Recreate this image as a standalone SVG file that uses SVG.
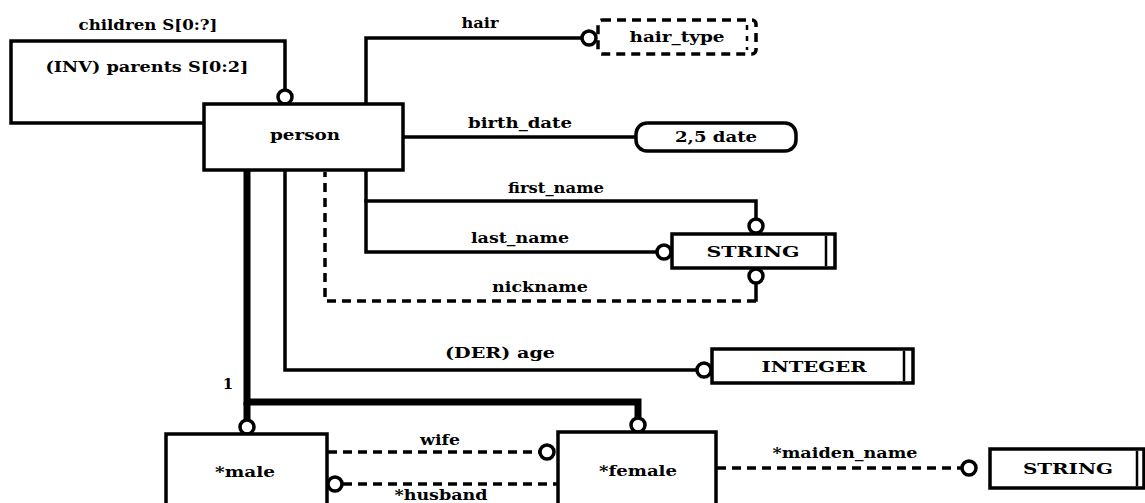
<svg xmlns="http://www.w3.org/2000/svg" width="1145" height="503" viewBox="0 0 1145 503">
<style>
  text { font-family: "DejaVu Serif", "Liberation Serif", serif; font-weight: bold; font-size: 15px; fill: #000; text-anchor: middle; }
  .ln { fill: none; stroke: #000; stroke-width: 3.5; stroke-linecap: square; }
  .dash { fill: none; stroke: #000; stroke-width: 3.5; stroke-dasharray: 9 6; }
  .thick { fill: none; stroke: #000; stroke-width: 7; }
  .box { fill: #fff; stroke: #000; stroke-width: 3.5; }
  .dbox { fill: #fff; stroke: #000; stroke-width: 3.5; stroke-dasharray: 9 6; }
  .circ { fill: #fff; stroke: #000; stroke-width: 3.5; }
</style>
<rect x="0" y="0" width="1145" height="503" fill="#fff"/>

<g id="connectors">
  <path class="ln" d="M 205 123 H 11 V 41 H 285 V 90"/>
  <circle class="circ" cx="285" cy="97" r="7"/>
  <path class="ln" d="M 366 104 V 38 H 581"/>
  <circle class="circ" cx="589" cy="38" r="7"/>
  <path class="ln" d="M 403 137 H 636"/>
  <path class="ln" d="M 366 170 V 252 H 656"/>
  <path class="ln" d="M 366 201 H 756 V 219"/>
  <circle class="circ" cx="756" cy="226" r="7"/>
  <circle class="circ" cx="664" cy="252" r="7"/>
  <path class="ln" d="M 756 283 V 300"/>
  <path class="dash" d="M 756 301 H 325 V 172"/>
  <circle class="circ" cx="756" cy="276" r="7"/>
  <path class="ln" d="M 285 170 V 370 H 696"/>
  <circle class="circ" cx="704" cy="370" r="7"/>
  <path class="thick" d="M 247 170 V 402 H 638 V 417"/>
  <path class="thick" d="M 247 402 V 420"/>
  <circle class="circ" cx="247" cy="427" r="7"/>
  <circle class="circ" cx="638" cy="425" r="7"/>
  <path class="dash" d="M 328 452 H 539"/>
  <circle class="circ" cx="547" cy="452" r="7"/>
  <path class="dash" d="M 343 484 H 558"/>
  <circle class="circ" cx="335" cy="484" r="7"/>
  <path class="dash" d="M 717 468 H 961"/>
  <circle class="circ" cx="969" cy="468" r="7"/>

  <text x="148" y="30" textLength="139" lengthAdjust="spacingAndGlyphs">children S[0:?]</text>
  <text x="147" y="72" textLength="203" lengthAdjust="spacingAndGlyphs">(INV) parents S[0:2]</text>
  <text x="480" y="28" textLength="37" lengthAdjust="spacingAndGlyphs">hair</text>
  <text x="520" y="128" textLength="104" lengthAdjust="spacingAndGlyphs">birth_date</text>
  <text x="556" y="193" textLength="96" lengthAdjust="spacingAndGlyphs">first_name</text>
  <text x="520" y="243" textLength="98" lengthAdjust="spacingAndGlyphs">last_name</text>
  <text x="540" y="292" textLength="96" lengthAdjust="spacingAndGlyphs">nickname</text>
  <text x="500" y="358" textLength="110" lengthAdjust="spacingAndGlyphs">(DER) age</text>
  <text x="228" y="389">1</text>
  <text x="440" y="445" textLength="40" lengthAdjust="spacingAndGlyphs">wife</text>
  <text x="441" y="500" textLength="93" lengthAdjust="spacingAndGlyphs">*husband</text>
  <text x="845" y="458" textLength="145" lengthAdjust="spacingAndGlyphs">*maiden_name</text>
</g>

<g id="person">
  <rect class="box" x="204" y="104" width="199" height="66"/>
  <text x="305" y="140" textLength="70" lengthAdjust="spacingAndGlyphs">person</text>
</g>

<g id="hair_type">
  <rect class="dbox" x="598" y="20" width="158" height="34" rx="4"/>
  <path class="dash" d="M 747 25 V 50" style="stroke-width:2.5;stroke-dasharray:5 6"/>
  <text x="677" y="42" textLength="95" lengthAdjust="spacingAndGlyphs">hair_type</text>
</g>

<g id="date">
  <rect class="box" x="636" y="123" width="160" height="28" rx="11"/>
  <text x="716" y="142" textLength="82" lengthAdjust="spacingAndGlyphs">2,5 date</text>
</g>

<g id="string1">
  <rect class="box" x="672" y="234" width="163" height="34"/>
  <path class="ln" d="M 826 237 V 265" style="stroke-width:2.5"/>
  <text x="753" y="257" textLength="93" lengthAdjust="spacingAndGlyphs">STRING</text>
</g>

<g id="integer">
  <rect class="box" x="712" y="349" width="201" height="34"/>
  <path class="ln" d="M 904 352 V 380" style="stroke-width:2.5"/>
  <text x="814" y="372" textLength="105" lengthAdjust="spacingAndGlyphs">INTEGER</text>
</g>

<g id="male">
  <rect class="box" x="166" y="434" width="161" height="80"/>
  <text x="245" y="477" textLength="60" lengthAdjust="spacingAndGlyphs">*male</text>
</g>

<g id="female">
  <rect class="box" x="558" y="432" width="158" height="82"/>
  <text x="638" y="476" textLength="78" lengthAdjust="spacingAndGlyphs">*female</text>
</g>

<g id="string2">
  <rect class="box" x="990" y="449" width="154" height="39"/>
  <path class="ln" d="M 1137 452 V 485" style="stroke-width:2.5"/>
  <text x="1068" y="474" textLength="90" lengthAdjust="spacingAndGlyphs">STRING</text>
</g>
</svg>
